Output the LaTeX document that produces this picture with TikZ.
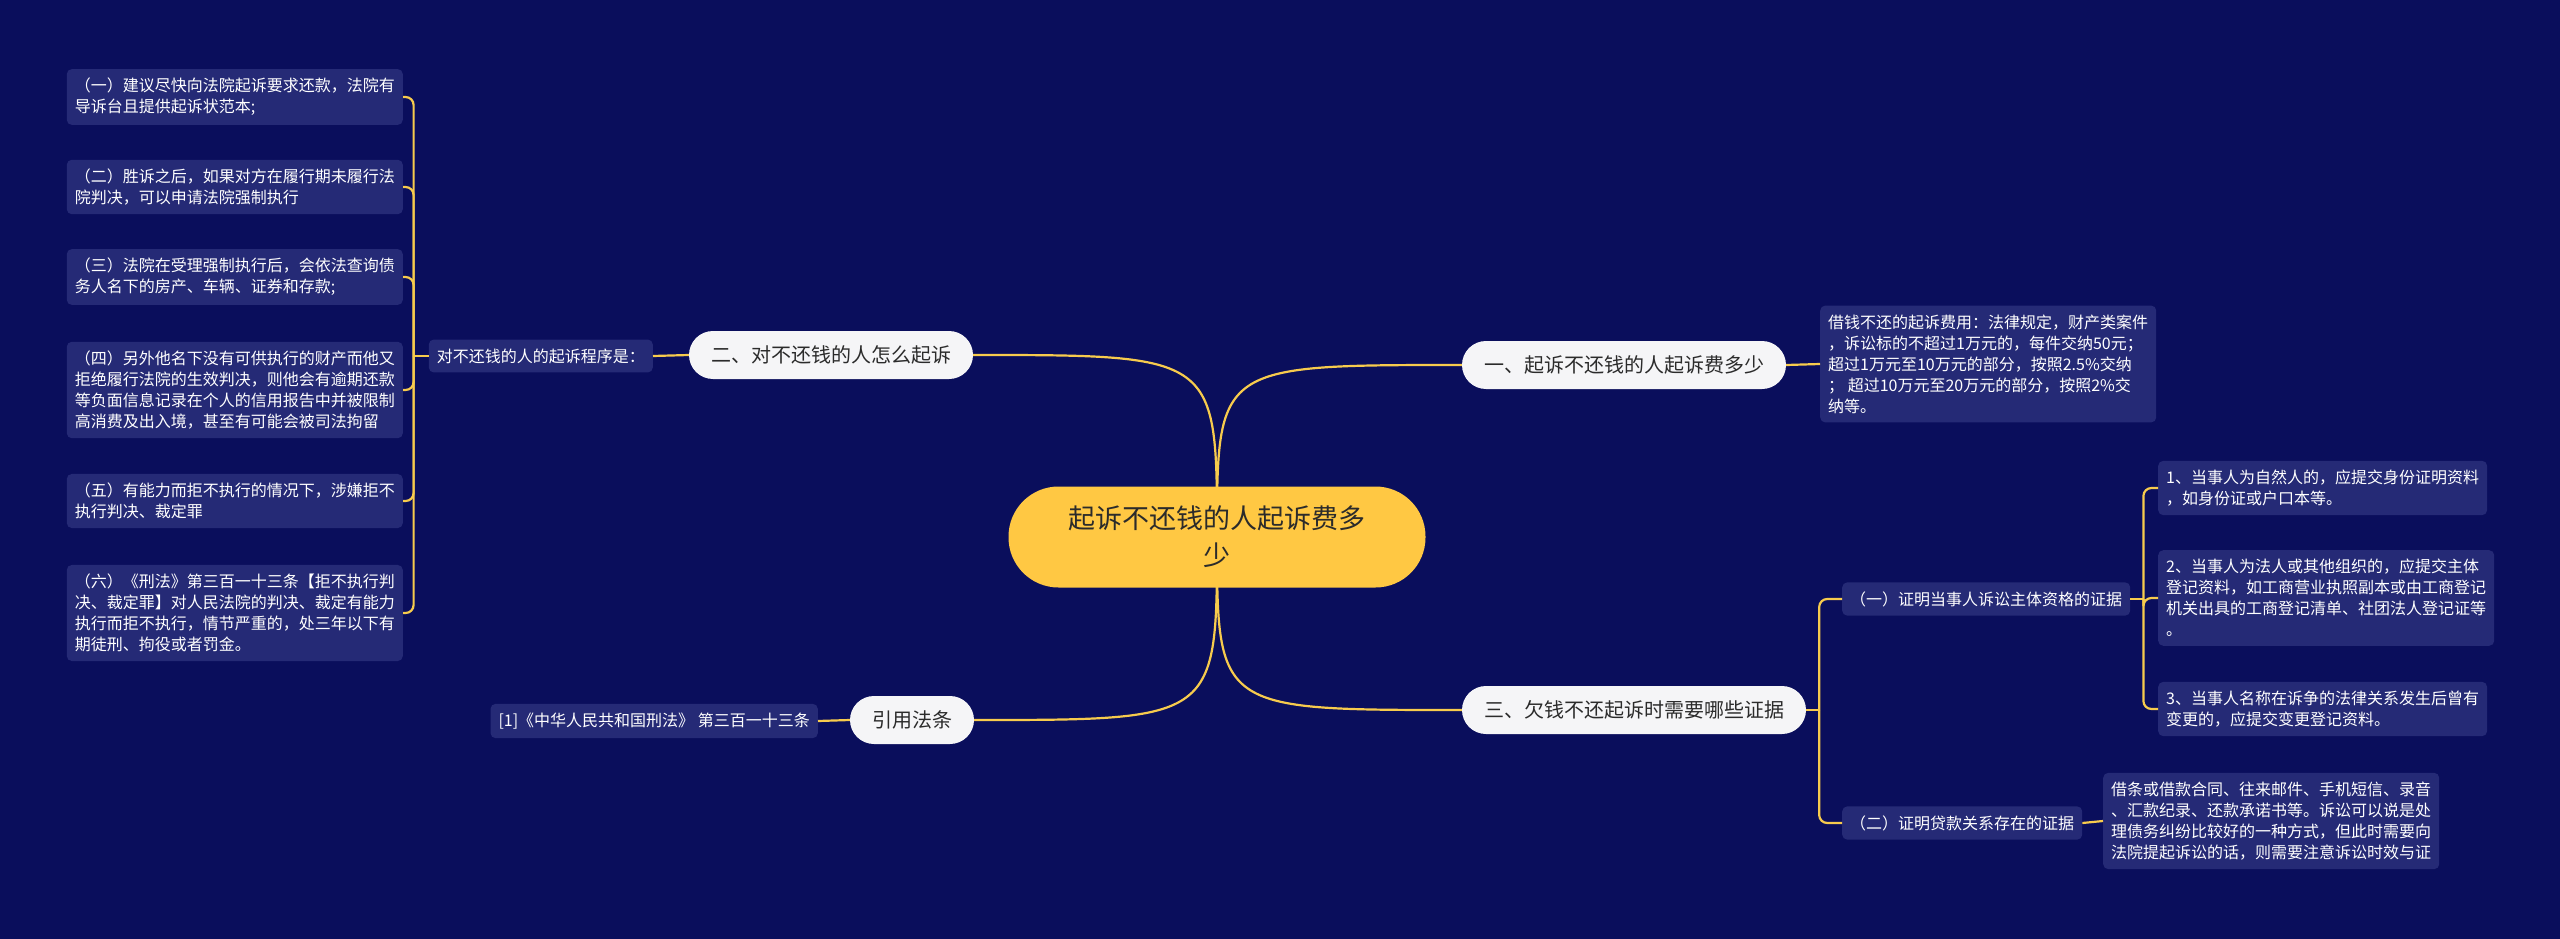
\documentclass[tikz,border=0pt]{standalone}
\usepackage{fontspec}
\setmainfont{Noto Sans CJK SC}
\usetikzlibrary{calc, backgrounds}

\definecolor{navy}{HTML}{0A0E5C}
\definecolor{leafbg}{HTML}{252A76}
\definecolor{gold}{HTML}{F7CB4D}
\definecolor{rootbg}{HTML}{FFC843}
\definecolor{pillbg}{HTML}{F5F5F7}
\definecolor{ink}{HTML}{2B2B2B}

\tikzset{
  root/.style={fill=rootbg, text=ink, rounded corners=50pt, minimum width=417pt,
    minimum height=101pt, align=center, font=\fontsize{27pt}{37pt}\selectfont},
  pill/.style={fill=pillbg, text=ink, rounded corners=24pt, minimum height=48pt,
    inner xsep=22pt, font=\fontsize{20pt}{24pt}\selectfont},
  leaf/.style={fill=leafbg, text=white, rounded corners=5pt, inner xsep=8pt,
    inner ysep=9pt, align=left, font=\fontsize{16pt}{21pt}\selectfont},
  link/.style={draw=gold, line width=2.2pt},
}

\begin{document}
\begin{tikzpicture}[x=1pt, y=-1pt]
    \node[root] (root) at (1217,537) {起诉不还钱的人起诉费多\\少};

    % right side
    \node[pill] (b1) at (1624,365) {一、起诉不还钱的人起诉费多少};
    \node[leaf, anchor=west] (fee) at (1820,364) {借钱不还的起诉费用：法律规定，财产类案件\\，诉讼标的不超过1万元的，每件交纳50元；\\ 超过1万元至10万元的部分，按照2.5\%交纳\\； 超过10万元至20万元的部分，按照2\%交\\纳等。};
    \node[pill] (b3) at (1634,710) {三、欠钱不还起诉时需要哪些证据};
    \node[leaf, anchor=west] (ev1) at (1842,599) {（一）证明当事人诉讼主体资格的证据};
    \node[leaf, anchor=west] (ev2) at (1842,823) {（二）证明贷款关系存在的证据};
    \node[leaf, anchor=west] (ev1a) at (2158,488) {1、当事人为自然人的，应提交身份证明资料\\，如身份证或户口本等。};
    \node[leaf, anchor=west] (ev1b) at (2158,598) {2、当事人为法人或其他组织的，应提交主体\\登记资料，如工商营业执照副本或由工商登记\\机关出具的工商登记清单、社团法人登记证等\\。};
    \node[leaf, anchor=west] (ev1c) at (2158,709) {3、当事人名称在诉争的法律关系发生后曾有\\变更的，应提交变更登记资料。};
    \node[leaf, anchor=west] (ev2a) at (2103,821) {借条或借款合同、往来邮件、手机短信、录音\\、汇款纪录、还款承诺书等。诉讼可以说是处\\理债务纠纷比较好的一种方式，但此时需要向\\法院提起诉讼的话，则需要注意诉讼时效与证};

    % left side
    \node[pill] (b2) at (831,355) {二、对不还钱的人怎么起诉};
    \node[leaf, anchor=east] (proc) at (653,356) {对不还钱的人的起诉程序是：};
    \node[leaf, anchor=east] (st1) at (403,97) {（一）建议尽快向法院起诉要求还款，法院有\\导诉台且提供起诉状范本;};
    \node[leaf, anchor=east] (st2) at (403,187) {（二）胜诉之后，如果对方在履行期未履行法\\院判决，可以申请法院强制执行};
    \node[leaf, anchor=east] (st3) at (403,277) {（三）法院在受理强制执行后，会依法查询债\\务人名下的房产、车辆、证券和存款;};
    \node[leaf, anchor=east] (st4) at (403,390) {（四）另外他名下没有可供执行的财产而他又\\拒绝履行法院的生效判决，则他会有逾期还款\\等负面信息记录在个人的信用报告中并被限制\\高消费及出入境，甚至有可能会被司法拘留};
    \node[leaf, anchor=east] (st5) at (403,501) {（五）有能力而拒不执行的情况下，涉嫌拒不\\执行判决、裁定罪};
    \node[leaf, anchor=east] (st6) at (403,613) {（六）《刑法》第三百一十三条【拒不执行判\\决、裁定罪】对人民法院的判决、裁定有能力\\执行而拒不执行，情节严重的，处三年以下有\\期徒刑、拘役或者罚金。};
    \node[pill] (b4) at (912,720) {引用法条};
    \node[leaf, anchor=east] (law) at (818,721) {[1]《中华人民共和国刑法》 第三百一十三条};

    \begin{scope}[on background layer]
        \fill[navy] (0,0) rectangle (2560,939);
        \foreach \b/\s in {b1/west, b3/west, b2/east, b4/east}
            \draw[link] (root.center) .. controls (root.center |- \b.\s) .. (\b.\s);
    \end{scope}

    % straight links
    \draw[link] (b1.east) -- (fee.west);
    \draw[link] (b2.west) -- (proc.east);
    \draw[link] (b4.west) -- (law.east);
    \draw[link] (ev2.east) -- (ev2a.west);

    % brackets
    \coordinate (jl) at ($(proc.west)+(-15,0)$);
    \draw[link] (proc.west) -- (jl);
    \foreach \n in {st1,st2,st3,st4,st5,st6}
        \draw[link, rounded corners=8pt] (jl) |- (\n.east);

    \coordinate (jr) at ($(b3.east)+(13,0)$);
    \draw[link] (b3.east) -- (jr);
    \foreach \n in {ev1,ev2}
        \draw[link, rounded corners=8pt] (jr) |- (\n.west);

    \coordinate (je) at ($(ev1.east)+(13,0)$);
    \draw[link] (ev1.east) -- (je);
    \foreach \n in {ev1a,ev1b,ev1c}
        \draw[link, rounded corners=8pt] (je) |- (\n.west);
\end{tikzpicture}
\end{document}
